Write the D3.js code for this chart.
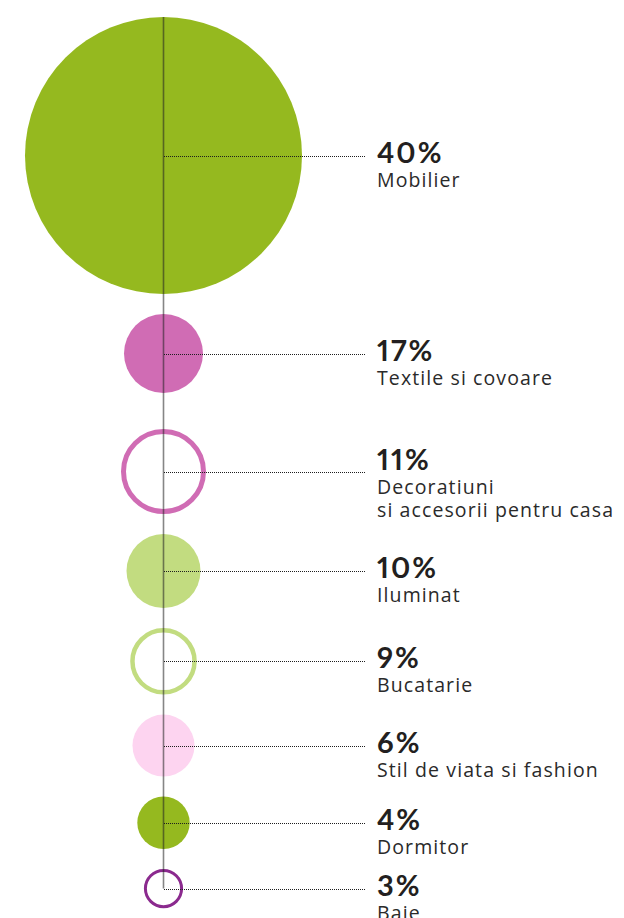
<!DOCTYPE html>
<html>
<head>
<meta charset="utf-8">
<script src="https://cdn.jsdelivr.net/npm/d3@7"></script>
<style>
  html, body { margin: 0; padding: 0; background: #ffffff; }
  svg { display: block; }
  .pct { font-variant-numeric: proportional-nums; font-feature-settings: "pnum" 1; }
</style>
</head>
<body>
<div id="chart"></div>
<script>
// ---------- DATA ----------
const categories = [
  ["Mobilier"],
  ["Textile si covoare"],
  ["Decoratiuni", "si accesorii pentru casa"],
  ["Iluminat"],
  ["Bucatarie"],
  ["Stil de viata si fashion"],
  ["Dormitor"],
  ["Baie"]
];
const values = [40, 17, 11, 10, 9, 6, 4, 3];
const valueLabels = values.map(v => v + "%");

// ---------- STYLE ----------
const markColors = ["#95b91f", "#d06cb4", "#d06cb4", "#c2dc80", "#c2dc80", "#fdd4f0", "#95b91f", "#8b2a8e"];
const markKinds  = ["fill", "fill", "ring", "fill", "ring", "fill", "fill", "ring"];
const ringWidth  = d3.scaleLinear().domain([3, 11]).range([3, 5]).clamp(true);

const W = 624, H = 918;
const axisX = 163.5;
const topPad = 17;
const rowGap = 20;
const extraLineGap = 16;   // additional room before a row whose label wraps
const labelX = 377;
const leaderEnd = 366;

// radius scale (outer visual radius), calibrated to the reference artwork
const rScale = d3.scaleLinear()
  .domain([3, 4, 6, 9, 10, 11, 17, 40])
  .range([19.6, 26.2, 31, 33.3, 37, 42.5, 39.5, 138.5]);

// stack rows vertically: each circle below the previous one with a gap
const rows = [];
let cursor = topPad;
values.forEach((v, i) => {
  const r = rScale(v);
  const lines = categories[i];
  if (i > 0) cursor += (lines.length - 1) * extraLineGap;
  const cy = cursor + r;
  rows.push({ i, v, r, cy, lines, label: valueLabels[i],
              color: markColors[i], kind: markKinds[i] });
  cursor = cy + r + rowGap;
});

const svg = d3.select("#chart").append("svg")
  .attr("width", W).attr("height", H);

// circles
svg.selectAll("circle.mark").data(rows).join("circle")
  .attr("class", "mark")
  .attr("cx", axisX)
  .attr("cy", d => d.cy)
  .attr("r", d => d.kind === "ring" ? d.r - ringWidth(d.v) / 2 : d.r)
  .attr("fill", d => d.kind === "ring" ? "#ffffff" : d.color)
  .attr("stroke", d => d.kind === "ring" ? d.color : "none")
  .attr("stroke-width", d => d.kind === "ring" ? ringWidth(d.v) : 0);

// leader lines (dotted)
svg.selectAll("line.leader").data(rows).join("line")
  .attr("class", "leader")
  .attr("x1", axisX).attr("x2", leaderEnd)
  .attr("y1", d => Math.round(d.cy) + 0.5).attr("y2", d => Math.round(d.cy) + 0.5)
  .attr("stroke", "#1e1e1e")
  .attr("stroke-width", 1)
  .attr("shape-rendering", "crispEdges")
  .attr("stroke-dasharray", "1,1");

// vertical spine
svg.append("line")
  .attr("x1", axisX).attr("x2", axisX)
  .attr("y1", rows[0].cy - rows[0].r)
  .attr("y2", rows[rows.length - 1].cy)
  .attr("stroke", "#222")
  .attr("stroke-opacity", 0.55)
  .attr("stroke-width", 1.6);

// labels
const lab = svg.selectAll("g.lab").data(rows).join("g")
  .attr("class", "lab")
  .attr("transform", d => `translate(${labelX},${d.cy + 7 - (d.lines.length - 1) * 9})`);

lab.append("text")
  .attr("class", "pct")
  .attr("x", 0).attr("y", 0)
  .attr("font-family", "Lato, 'Open Sans', sans-serif")
  .attr("font-weight", 700)
  .attr("font-size", 29)
  .attr("letter-spacing", 2)
  .attr("fill", "#231f20")
  .text(d => d.label);

lab.each(function(d) {
  const g = d3.select(this);
  d.lines.forEach((ln, k) => {
    g.append("text")
      .attr("x", 0)
      .attr("y", 24 + k * 23.5)
      .attr("font-family", "'Open Sans', Lato, sans-serif")
      .attr("font-size", 19.5)
      .attr("letter-spacing", 1.1)
      .attr("fill", "#2a2a2a")
      .text(ln);
  });
});
</script>
</body>
</html>
